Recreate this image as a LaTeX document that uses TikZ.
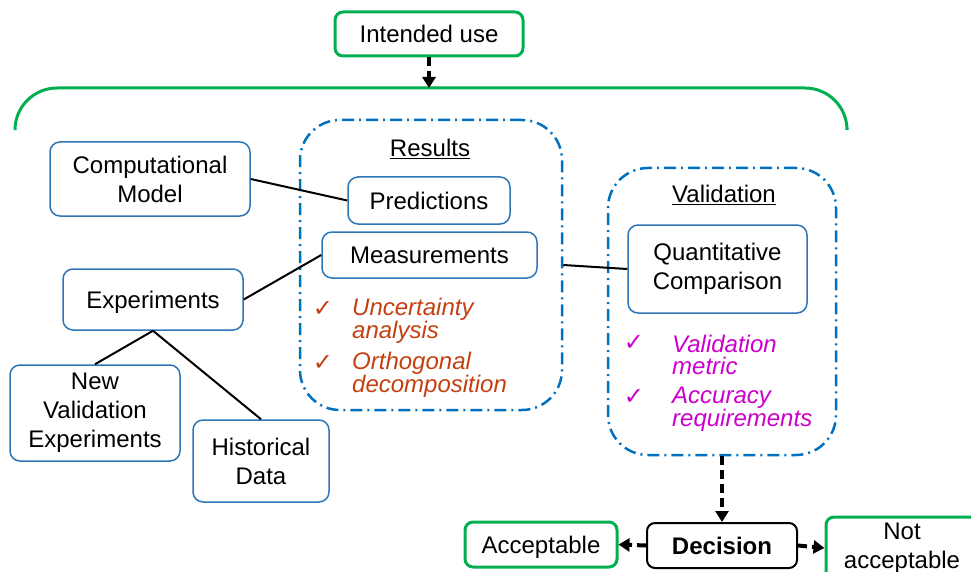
\documentclass[tikz,border=0pt]{standalone}
\usepackage{fontspec}
\setmainfont{Liberation Sans}
\newfontfamily\symfont{DejaVu Sans}
\usetikzlibrary{arrows.meta}
\definecolor{boxblue}{RGB}{46,117,182}
\definecolor{frameblue}{RGB}{0,112,192}
\definecolor{okgreen}{RGB}{0,176,80}
\definecolor{redtext}{RGB}{197,64,17}
\definecolor{pinktext}{RGB}{204,0,204}
\begin{document}
\begin{tikzpicture}[x=1pt,y=-1pt,
  font=\fontsize{24}{29}\selectfont,
  box/.style={draw=boxblue,line width=1.5pt,rounded corners=10pt,align=center,inner sep=0pt},
  gbox/.style={draw=okgreen,line width=3pt,rounded corners=8pt,align=center,inner sep=0pt},
  oneline/.style={text height=19pt,text depth=2pt},
  frame/.style={draw=frameblue,line width=2.5pt,rounded corners=40pt,dash pattern=on 12pt off 5pt on 2pt off 5pt,inner sep=0pt},
  link/.style={line width=2pt},
  flow/.style={line width=4pt,dash pattern=on 9pt off 5pt,-{Triangle[length=11pt,width=13pt]}},
  tick/.style={font=\symfont\fontsize{24}{24}\selectfont,inner sep=0pt},
  note/.style={font=\fontsize{24}{22}\selectfont\itshape,align=left,anchor=west,inner sep=0pt}]
\useasboundingbox (0,0) rectangle (971,572);
% top of the chart
\node[gbox,oneline,minimum width=188pt,minimum height=44pt] (use) at (429,34) {Intended use};
\coordinate (brace) at (429,88);
\draw[okgreen,line width=3pt,rounded corners=42pt] (15,128) -- (15,88) -- (847,88) -- (847,128);
% containers
\node[frame,minimum width=262pt,minimum height=290pt] (results) at (431,265) {};
\node[oneline] (restitle) at (430,148) {\underline{Results}};
\node[frame,minimum width=228pt,minimum height=287pt] (valid) at (722,311.5) {};
\node[oneline] (valtitle) at (724,194) {\underline{Validation}};
% boxes
\node[box,minimum width=200pt,minimum height=74pt] (model) at (150,179) {Computational\\Model};
\node[box,oneline,minimum width=162pt,minimum height=47pt] (pred) at (429,200.5) {Predictions};
\node[box,oneline,minimum width=215pt,minimum height=46pt] (meas) at (429.5,255) {Measurements};
\node[box,oneline,minimum width=180pt,minimum height=61pt] (exp) at (153,299.5) {Experiments};
\node[box,minimum width=170pt,minimum height=96pt] (newexp) at (95,413) {New\\Validation\\Experiments};
\node[box,minimum width=136pt,minimum height=82pt] (hist) at (261,461) {Historical\\Data};
\node[box,minimum width=179pt,minimum height=88pt] (quant) at (717.5,269) {Quantitative\\Comparison};
\node[draw,oneline,line width=2pt,rounded corners=8pt,inner sep=0pt,minimum width=150pt,minimum height=45pt,font=\fontsize{24}{29}\selectfont\bfseries] (decision) at (722,545.5) {Decision};
\node[gbox,oneline,minimum width=152pt,minimum height=45pt] (ok) at (541,544.5) {Acceptable};
\node[gbox,minimum width=152pt,minimum height=62pt] (notok) at (902,548) {Not\\acceptable};
% check lists
\node[tick,text=redtext] (t1) at (323,309) {✓};
\node[note,text=redtext] (n1) at (352,321) {Uncertainty\\analysis};
\node[tick,text=redtext] (t2) at (323,363) {✓};
\node[note,text=redtext] (n2) at (352,375) {Orthogonal\\decomposition};
\node[tick,text=pinktext] (t3) at (634,343) {✓};
\node[note,text=pinktext] (n3) at (672,355) {Validation\\metric};
\node[tick,text=pinktext] (t4) at (634,397) {✓};
\node[note,text=pinktext] (n4) at (672,409) {Accuracy\\requirements};
% connectors
\draw[link] (model.east) -- (pred.west);
\draw[link] (exp.east) -- (meas.west);
\draw[link] (exp.south) -- (newexp.north);
\draw[link] (exp.south) -- (hist.north);
\draw[link] (results.east) -- (quant.west);
\draw[flow] (use.south) -- (brace);
\draw[flow] (valid.south) -- (decision.north);
\draw[flow] (decision.west) -- (ok.east);
\draw[flow] (decision.east) -- (notok.west);
\end{tikzpicture}
\end{document}
